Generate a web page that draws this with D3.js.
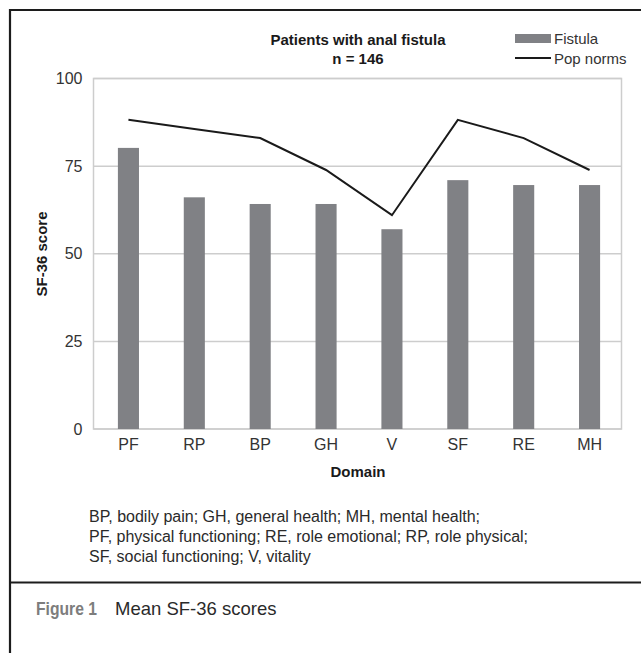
<!DOCTYPE html>
<html>
<head>
<meta charset="utf-8">
<script src="https://cdn.jsdelivr.net/npm/d3@7/dist/d3.min.js"></script>
<style>
  html, body { margin: 0; padding: 0; background: #fff; }
  svg { display: block; }
  text { font-family: "Liberation Sans", Arial, sans-serif; }
</style>
</head>
<body>
<svg id="chart" width="641" height="653"></svg>
<script>
// SF-36 domains
const domains = ["PF", "RP", "BP", "GH", "V", "SF", "RE", "MH"];
// Mean scores of patients with anal fistula
const fistulaScores = [80.2, 66.1, 64.2, 64.2, 57.0, 71.0, 69.6, 69.6];
// Population norms
const popNorms = [88.2, 85.6, 83.0, 73.9, 61.0, 88.2, 83.0, 73.9];
// Y axis ticks
const yTicks = [0, 25, 50, 75, 100];

const footnoteLines = [
  "BP, bodily pain; GH, general health; MH, mental health;",
  "PF, physical functioning; RE, role emotional; RP, role physical;",
  "SF, social functioning; V, vitality"
];

const svg = d3.select("#chart");

const plot = { left: 93.5, right: 621.5, top: 78.5, bottom: 429 };

const x = d3.scaleBand()
  .domain(domains)
  .range([95.5, 622.5])
  .paddingInner(0.68)
  .paddingOuter(0.34);

const y = d3.scaleLinear()
  .domain([0, 100])
  .range([plot.bottom, plot.top]);

// Outer figure frame
svg.append("path")
  .attr("d", "M10,660 V10 H660")
  .attr("fill", "none")
  .attr("stroke", "#1c1c1c")
  .attr("stroke-width", 2.2);
svg.append("line")
  .attr("x1", 10).attr("x2", 660)
  .attr("y1", 582.5).attr("y2", 582.5)
  .attr("stroke", "#1c1c1c")
  .attr("stroke-width", 2.2);

// Gridlines
const gridColor = "#cdcdcd";
svg.append("g")
  .selectAll("line")
  .data(yTicks)
  .join("line")
  .attr("x1", plot.left).attr("x2", plot.right)
  .attr("y1", d => y(d)).attr("y2", d => y(d))
  .attr("stroke", gridColor)
  .attr("stroke-width", 1.5);

// Plot area border
svg.append("rect")
  .attr("x", plot.left).attr("y", plot.top)
  .attr("width", plot.right - plot.left)
  .attr("height", plot.bottom - plot.top)
  .attr("fill", "none")
  .attr("stroke", gridColor)
  .attr("stroke-width", 1.5);

// Y axis labels
const yAxis = d3.axisLeft(y).tickValues(yTicks).tickSize(0).tickPadding(11);
const gy = svg.append("g")
  .attr("transform", `translate(${plot.left},0)`)
  .call(yAxis);
gy.select(".domain").remove();
gy.selectAll("text")
  .attr("font-size", 16)
  .attr("fill", "#333")
  .attr("font-family", "Liberation Sans, Arial, sans-serif");

// X axis labels
const xAxis = d3.axisBottom(x).tickSize(0).tickPadding(10);
const gx = svg.append("g")
  .attr("transform", `translate(0,${plot.bottom})`)
  .call(xAxis);
gx.select(".domain").remove();
gx.selectAll("text")
  .attr("font-size", 16)
  .attr("fill", "#333")
  .attr("font-family", "Liberation Sans, Arial, sans-serif");

// Bars
const barColor = "#808185";
svg.append("g")
  .selectAll("rect")
  .data(domains.map((d, i) => ({ d, v: fistulaScores[i] })))
  .join("rect")
  .attr("x", p => x(p.d))
  .attr("width", x.bandwidth())
  .attr("y", p => y(p.v))
  .attr("height", p => y(0) - y(p.v))
  .attr("fill", barColor);

// Population norm line
const line = d3.line()
  .x(p => x(p.d) + x.bandwidth() / 2)
  .y(p => y(p.v));
svg.append("path")
  .datum(domains.map((d, i) => ({ d, v: popNorms[i] })))
  .attr("d", line)
  .attr("fill", "none")
  .attr("stroke", "#1a1a1a")
  .attr("stroke-width", 2);

// Title
const title = svg.append("g").attr("font-weight", "bold").attr("fill", "#1a1a1a")
  .attr("font-size", 15).attr("text-anchor", "middle");
title.append("text").attr("x", 358).attr("y", 45).text("Patients with anal fistula");
title.append("text").attr("x", 358).attr("y", 64).text("n = 146");

// Legend
const legend = svg.append("g");
legend.append("rect")
  .attr("x", 515).attr("y", 34).attr("width", 36).attr("height", 9)
  .attr("fill", barColor);
legend.append("text")
  .attr("x", 554).attr("y", 44)
  .attr("font-size", 15).attr("fill", "#333")
  .text("Fistula");
legend.append("line")
  .attr("x1", 515).attr("x2", 551).attr("y1", 58).attr("y2", 58)
  .attr("stroke", "#1a1a1a").attr("stroke-width", 2);
legend.append("text")
  .attr("x", 554).attr("y", 63.5)
  .attr("font-size", 15).attr("fill", "#333")
  .text("Pop norms");

// Axis titles
svg.append("text")
  .attr("transform", "translate(47,254) rotate(-90)")
  .attr("text-anchor", "middle")
  .attr("font-size", 15).attr("font-weight", "bold").attr("fill", "#1a1a1a")
  .text("SF-36 score");
svg.append("text")
  .attr("x", 358).attr("y", 477)
  .attr("text-anchor", "middle")
  .attr("font-size", 15).attr("font-weight", "bold").attr("fill", "#1a1a1a")
  .text("Domain");

// Abbreviations
svg.append("g")
  .selectAll("text")
  .data(footnoteLines)
  .join("text")
  .attr("x", 89)
  .attr("y", (d, i) => 522 + i * 20)
  .attr("font-size", 16)
  .attr("fill", "#2a2a2a")
  .text(d => d);

// Caption
svg.append("text")
  .attr("x", 36).attr("y", 615)
  .attr("font-size", 18).attr("font-weight", "bold").attr("fill", "#7d7d7d")
  .attr("textLength", 61).attr("lengthAdjust", "spacingAndGlyphs")
  .text("Figure 1");
svg.append("text")
  .attr("x", 115).attr("y", 615)
  .attr("font-size", 18.5).attr("fill", "#2a2a2a")
  .text("Mean SF-36 scores");
</script>
</body>
</html>
